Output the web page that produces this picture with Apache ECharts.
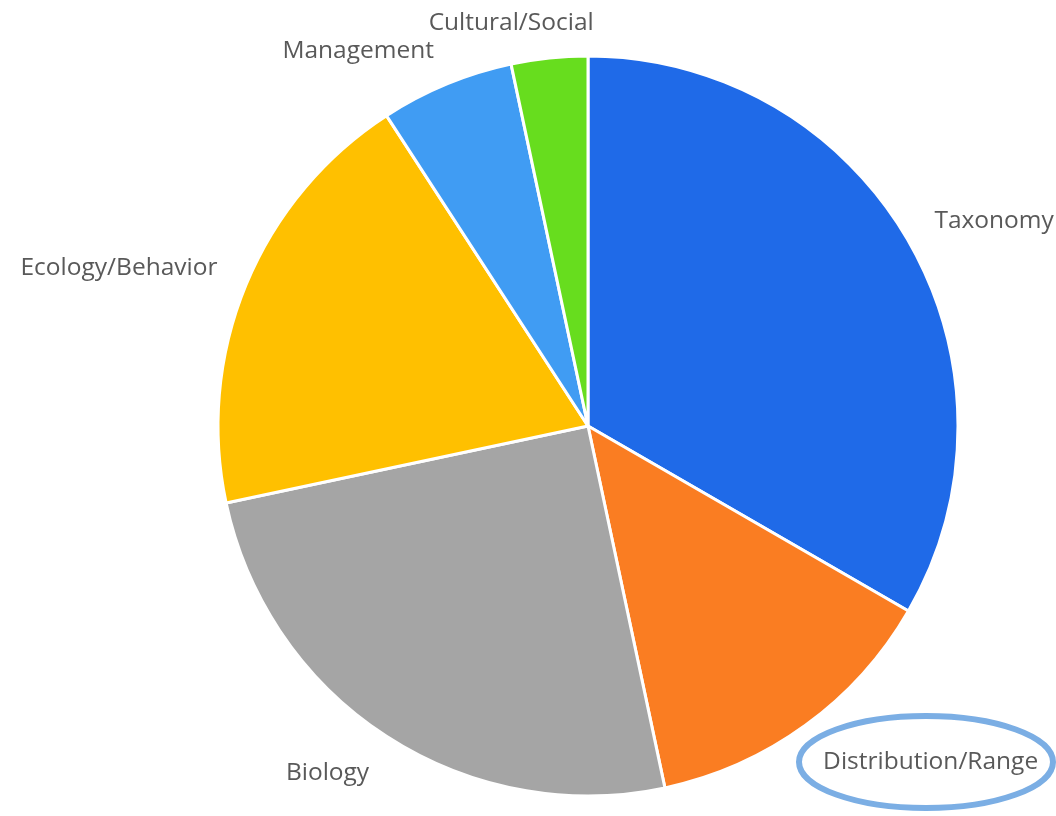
<!DOCTYPE html>
<html>
<head>
<meta charset="utf-8">
<script src="https://cdn.jsdelivr.net/npm/echarts@6/dist/echarts.min.js"></script>
<style>html,body{margin:0;padding:0;background:#fff;}#c{width:1056px;height:816px;}</style>
</head>
<body>
<div id="c"></div>
<script>
var categories = ['Taxonomy', 'Distribution/Range', 'Biology', 'Ecology/Behavior', 'Management', 'Cultural/Social'];
var values = [40, 16, 30, 23, 7, 4];
var colors = ['#1f6ae8', '#fa7d22', '#a5a5a5', '#ffc000', '#409cf3', '#67dd1e'];

var CX = 588, CY = 426;
var chart = echarts.init(document.getElementById('c'));
var data = categories.map(function (c, i) {
  return { name: c, value: values[i], itemStyle: { color: colors[i] } };
});
chart.setOption({
  animation: false,
  series: [{
    type: 'pie',
    center: [CX, CY],
    radius: 370,
    startAngle: 90,
    clockwise: true,
    avoidLabelOverlap: false,
    data: data,
    itemStyle: { borderColor: '#ffffff', borderWidth: 3 },
    label: {
      show: true,
      position: 'outside',
      formatter: '{b}',
      fontFamily: 'Open Sans',
      fontSize: 24.5,
      color: '#595959'
    },
    labelLine: { show: false, length: 30, length2: 0 },
    labelLayout: function (p) {
      var r = p.labelRect;
      var midY = r.y + r.height / 2;
      var midX = r.x + r.width / 2;
      var dy = midY > CY ? 12 : -5;
      if (p.dataIndex === 5) { return { align: 'center', dx: -30, dy: dy }; }
      var dx = midX > CX ? -5 : 4;
      return { dx: dx, dy: dy };
    },
    emphasis: { disabled: true }
  }],
  graphic: [{
    type: 'ellipse',
    shape: { cx: 926, cy: 762, rx: 127, ry: 46 },
    style: { fill: 'none', stroke: '#7baee4', lineWidth: 6 },
    z: 100
  }]
});
</script>
</body>
</html>
